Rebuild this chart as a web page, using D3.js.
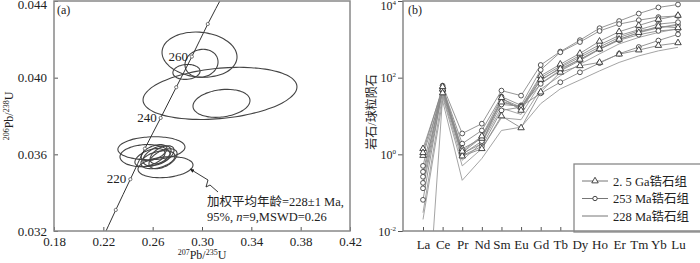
<!DOCTYPE html>
<html>
<head>
<meta charset="utf-8">
<script src="https://cdn.jsdelivr.net/npm/d3@7"></script>
<style>
body { margin: 0; background: #fff; }
text { font-family: "Liberation Serif", "Times New Roman", serif; fill: #222; }
.cjk { font-family: "Liberation Serif", "Noto Sans CJK SC", serif; }
</style>
</head>
<body>
<svg id="chart" width="700" height="263"></svg>
<script>
// ---------- panel (a): concordia + U-Pb error ellipses ----------
const concAge = [200, 210, 220, 230, 240, 250, 260, 270, 280];
const conc207 = [0.2186, 0.2301, 0.2419, 0.2537, 0.2665, 0.2791, 0.2918, 0.3047, 0.3178];
const conc206 = [0.0315, 0.0331, 0.0347, 0.0363, 0.0379, 0.0395, 0.0411, 0.0428, 0.0444];
const concLabels = [220, 240, 260];

// ellipse centres, half widths (207/235, 206/238) and error correlation
const ellX   = [0.298, 0.2996, 0.2874, 0.3146, 0.3158, 0.259, 0.2538, 0.2704, 0.2578, 0.2635, 0.2676, 0.2643, 0.2611, 0.2684];
const ellY   = [0.0412, 0.04075, 0.0403, 0.03918, 0.03866, 0.03632, 0.03593, 0.03533, 0.03583, 0.03593, 0.03598, 0.03572, 0.03609, 0.03577];
const ellSx  = [0.0304, 0.0134, 0.011, 0.0624, 0.0231, 0.0272, 0.0203, 0.0223, 0.0122, 0.0114, 0.0097, 0.0138, 0.0105, 0.0114];
const ellSy  = [0.00118, 0.00073, 0.00039, 0.00136, 0.00073, 0.0006, 0.00058, 0.00055, 0.00047, 0.00052, 0.00047, 0.00047, 0.00042, 0.00052];
const ellRho = [-0.1, 0.1, 0.1, 0.25, 0.2, 0.1, 0.1, 0.2, 0.5, 0.5, 0.5, 0.4, 0.5, 0.5];

const xTicksA = [0.18, 0.22, 0.26, 0.30, 0.34, 0.38, 0.42];
const yTicksA = [0.032, 0.036, 0.040, 0.044];

// ---------- panel (b): chondrite-normalised REE ----------
const ree = ["La", "Ce", "Pr", "Nd", "Sm", "Eu", "Gd", "Tb", "Dy", "Ho", "Er", "Tm", "Yb", "Lu"];
const grpGa = [   // 2.5 Ga zircons (triangles)
  [1.4, 50, 1.4, 2.6, 23, 17, 112, 224, 430, 890, 1580, 2300, 3300, 4200],
  [0.93, 40, 0.9, 1.4, 10, 4.9, 42, 138, 204, 250, 410, 525, 690, 810],
  [1.1, 58, 1.2, 3.0, 30, 14, 90, 170, 300, 560, 1000, 1500, 2200, 2000]
];
const grp253 = [  // 253 Ma zircons (circles)
  [0.5, 62, 3.5, 6.3, 46, 34, 214, 480, 950, 1950, 3000, 4700, 6800, 8100],
  [0.26, 56, 1.9, 4.2, 32, 19, 160, 460, 850, 1650, 2500, 3160, 3800, 4070],
  [0.13, 45, 1.05, 1.9, 28, 17, 83, 186, 340, 630, 1120, 1660, 2000, 2340],
  [0.065, 52, 0.93, 1.6, 14, 17, 69, 150, 280, 550, 950, 1320, 1660, 1820],
  [0.35, 48, 1.0, 2.2, 20, 18, 39, 76, 138, 240, 420, 630, 930, 1350],
  [0.18, 54, 1.1, 2.8, 25, 16, 100, 200, 380, 720, 1260, 1780, 2500, 2800]
];
const grp228 = [  // 228 Ma zircons (plain lines)
  [0.02, 25, 0.21, 0.78, 4.2, 5.1, 21, 51, 87, 150, 250, 370, 500, 620],
  [0.000001, 32, 0.5, 1.4, 9, 8, 50, 112, 224, 417, 760, 1120, 1510, 1900],
  [0.03, 35, 0.7, 2.0, 16, 11, 71, 158, 300, 560, 1000, 1480, 2000, 2500]
];
const legendLabels = ["2. 5 Ga锆石组", "253 Ma锆石组", "228 Ma锆石组"];
const yTicksB = [1e-2, 1, 1e2, 1e4];

const svg = d3.select("#chart");

// ===== panel (a) =====
const xA = d3.scaleLinear().domain([0.18, 0.42]).range([54, 350]);
const yA = d3.scaleLinear().domain([0.032, 0.044]).range([231, 1]);

svg.append("clipPath").attr("id", "clipA")
  .append("rect").attr("x", 54).attr("y", 1).attr("width", 296).attr("height", 230);

const gA = svg.append("g");

gA.append("g")
  .attr("transform", "translate(0,231)")
  .call(d3.axisBottom(xA).tickValues(xTicksA).tickSize(-4).tickPadding(6).tickFormat(d3.format(".2f")))
  .call(g => g.select(".domain").remove())
  .call(g => g.selectAll("text").style("font-size", "13px"))
  .call(g => g.selectAll("line").attr("stroke", "#555"));

gA.append("g")
  .attr("transform", "translate(54,0)")
  .call(d3.axisLeft(yA).tickValues(yTicksA).tickSize(-4).tickPadding(7).tickFormat(d3.format(".3f")))
  .call(g => g.select(".domain").remove())
  .call(g => g.selectAll("text").style("font-size", "13px")
    .attr("dy", d => d === 0.044 ? "0.55em" : "0.32em"))
  .call(g => g.selectAll("line").attr("stroke", "#555"));

const plotA = gA.append("g").attr("clip-path", "url(#clipA)");

// error ellipses
const ellPts = d3.range(0, 361, 6).map(a => a * Math.PI / 180);
ellX.forEach(function(cx, i) {
  const r = ellRho[i];
  const pts = ellPts.map(t => [
    xA(cx + ellSx[i] * Math.cos(t)),
    yA(ellY[i] + ellSy[i] * (r * Math.cos(t) + Math.sqrt(1 - r * r) * Math.sin(t)))
  ]);
  plotA.append("path")
    .attr("d", d3.line().curve(d3.curveCardinalClosed)(pts.slice(0, -1)))
    .attr("fill", "none")
    .attr("stroke", "#444")
    .attr("stroke-width", 1.1);
});

// concordia
const conc = concAge.map((a, i) => ({age: a, x: conc207[i], y: conc206[i]}));
plotA.append("path")
  .attr("d", d3.line().x(d => xA(d.x)).y(d => yA(d.y)).curve(d3.curveMonotoneX)(conc))
  .attr("fill", "none")
  .attr("stroke", "#333")
  .attr("stroke-width", 1);
plotA.selectAll(".ctick")
  .data(conc.filter(d => d.y > 0.032 && d.y < 0.044))
  .join("circle")
  .attr("cx", d => xA(d.x))
  .attr("cy", d => yA(d.y))
  .attr("r", 1.6)
  .attr("fill", "#fff")
  .attr("stroke", "#555")
  .attr("stroke-width", 0.8);
gA.selectAll(".clab")
  .data(conc.filter(d => concLabels.includes(d.age)))
  .join("text")
  .attr("x", d => xA(d.x) - 4)
  .attr("y", d => yA(d.y) + 4)
  .attr("text-anchor", "end")
  .style("font-size", "13px")
  .text(d => d.age);

// annotation arrow + text
gA.append("defs").append("marker")
  .attr("id", "arr").attr("viewBox", "0 0 10 10").attr("refX", 9).attr("refY", 5)
  .attr("markerWidth", 5).attr("markerHeight", 5).attr("orient", "auto")
  .append("path").attr("d", "M0,1L10,5L0,9z").attr("fill", "#222");
gA.append("path")
  .attr("d", "M218,192 L210,185 L206,187 L208,180 L190,169")
  .attr("fill", "none").attr("stroke", "#222").attr("stroke-width", 0.9)
  .attr("marker-end", "url(#arr)");
gA.append("text").attr("class", "cjk").attr("x", 207).attr("y", 206).style("font-size", "12.5px")
  .text("加权平均年龄=228±1 Ma,");
const t2 = gA.append("text").attr("x", 207).attr("y", 221).style("font-size", "12.5px");
t2.append("tspan").text("95%, ");
t2.append("tspan").style("font-style", "italic").text("n");
t2.append("tspan").text("=9,MSWD=0.26");

gA.append("text").attr("x", 57).attr("y", 14).style("font-size", "12px").text("(a)");

gA.append("rect").attr("x", 54).attr("y", 1).attr("width", 296).attr("height", 230)
  .attr("fill", "none").attr("stroke", "#888").attr("stroke-width", 1.5);

const yt = gA.append("text").attr("transform", "translate(13,116) rotate(-90)")
  .attr("text-anchor", "middle").style("font-size", "12px");
yt.append("tspan").attr("dy", "-4").style("font-size", "8px").text("206");
yt.append("tspan").attr("dy", "4").text("Pb/");
yt.append("tspan").attr("dy", "-4").style("font-size", "8px").text("238");
yt.append("tspan").attr("dy", "4").text("U");

const xt = gA.append("text").attr("x", 202).attr("y", 259)
  .attr("text-anchor", "middle").style("font-size", "12px");
xt.append("tspan").attr("dy", "-4").style("font-size", "8px").text("207");
xt.append("tspan").attr("dy", "4").text("Pb/");
xt.append("tspan").attr("dy", "-4").style("font-size", "8px").text("235");
xt.append("tspan").attr("dy", "4").text("U");

// ===== panel (b) =====
const xB = d3.scalePoint().domain(ree).range([423, 678]);
const yB = d3.scaleLog().domain([1e-2, 1e4]).range([231, 1]);

svg.append("clipPath").attr("id", "clipB")
  .append("rect").attr("x", 403).attr("y", 1).attr("width", 296).attr("height", 230);

const gB = svg.append("g");

gB.append("g")
  .attr("transform", "translate(0,231)")
  .call(d3.axisBottom(xB).tickSize(-4).tickPadding(9))
  .call(g => g.select(".domain").remove())
  .call(g => g.selectAll("text").style("font-size", "13px"))
  .call(g => g.selectAll("line").attr("stroke", "#555"));

const yAxB = gB.append("g")
  .attr("transform", "translate(403,0)")
  .call(d3.axisLeft(yB).tickValues(yTicksB).tickSize(5).tickPadding(3).tickFormat(""))
  .call(g => g.select(".domain").remove())
  .call(g => g.selectAll("line").attr("stroke", "#555"));
yAxB.selectAll(".tick").each(function(d) {
  const t = d3.select(this).append("text").attr("x", -7).attr("dy", d === 1e4 ? "0.7em" : "0.35em")
    .attr("text-anchor", "end").style("font-size", "12px");
  t.append("tspan").text("10");
  t.append("tspan").attr("dy", "-5").style("font-size", "7px").text(Math.round(Math.log10(d)));
});

const plotB = gB.append("g").attr("clip-path", "url(#clipB)");
const lineB = d3.line().x((d, i) => xB(ree[i])).y(d => yB(d));

grp228.forEach(s => plotB.append("path").attr("d", lineB(s))
  .attr("fill", "none").attr("stroke", "#9a9a9a").attr("stroke-width", 0.9));
grp253.concat(grpGa).forEach(s => plotB.append("path").attr("d", lineB(s))
  .attr("fill", "none").attr("stroke", "#8a8a8a").attr("stroke-width", 0.9));

grp253.forEach(s => plotB.append("g").selectAll("circle").data(s).join("circle")
  .attr("cx", (d, i) => xB(ree[i])).attr("cy", d => yB(d)).attr("r", 2.4)
  .attr("fill", "#fff").attr("stroke", "#444").attr("stroke-width", 0.9));
const tri = d3.symbol().type(d3.symbolTriangle).size(18);
grpGa.forEach(s => plotB.append("g").selectAll("path").data(s).join("path")
  .attr("d", tri)
  .attr("transform", (d, i) => "translate(" + xB(ree[i]) + "," + yB(d) + ")")
  .attr("fill", "#fff").attr("stroke", "#333").attr("stroke-width", 0.9));

// legend
const leg = gB.append("g");
leg.append("rect").attr("x", 574).attr("y", 164).attr("width", 130).attr("height", 68)
  .attr("fill", "#fff").attr("stroke", "#888").attr("stroke-width", 1.3);
legendLabels.forEach(function(lab, i) {
  const y = 181 + i * 17.5;
  leg.append("line").attr("x1", 582).attr("x2", 608).attr("y1", y).attr("y2", y)
    .attr("stroke", "#666").attr("stroke-width", 0.9);
  if (i === 0) leg.append("path").attr("d", tri).attr("transform", "translate(595," + y + ")")
    .attr("fill", "#fff").attr("stroke", "#333").attr("stroke-width", 0.9);
  if (i === 1) leg.append("circle").attr("cx", 595).attr("cy", y).attr("r", 2.2)
    .attr("fill", "#fff").attr("stroke", "#333").attr("stroke-width", 0.9);
  leg.append("text").attr("class", "cjk").attr("x", 613).attr("y", y + 4.5)
    .style("font-size", "12.5px").text(lab);
});

gB.append("text").attr("x", 408).attr("y", 14).style("font-size", "12px").text("(b)");

gB.append("rect").attr("x", 403).attr("y", 1).attr("width", 299).attr("height", 230)
  .attr("fill", "none").attr("stroke", "#888").attr("stroke-width", 1.5);

gB.append("text").attr("class", "cjk").attr("transform", "translate(376,112) rotate(-90)")
  .attr("text-anchor", "middle").style("font-size", "12px").text("岩石/球粒陨石");
</script>
</body>
</html>
